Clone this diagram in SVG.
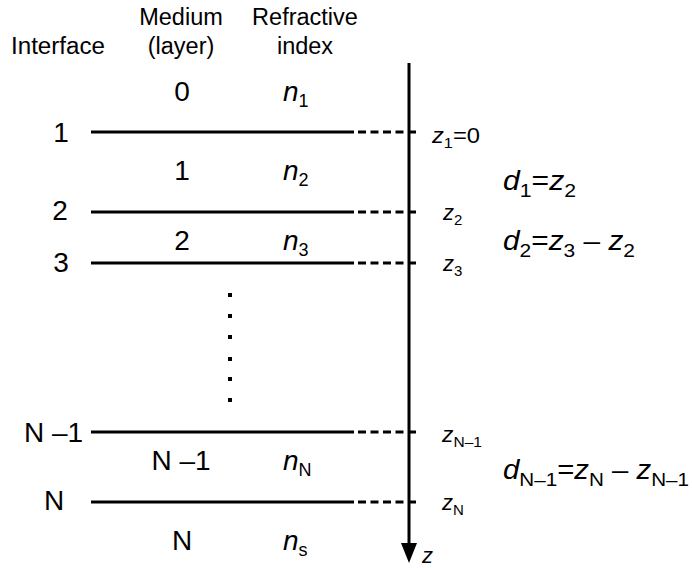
<svg xmlns="http://www.w3.org/2000/svg" width="692" height="568" viewBox="0 0 692 568">
<style>
text{font-family:"Liberation Sans",Arial,Helvetica,sans-serif;fill:#000}
.h{font-size:23.5px;text-anchor:middle}
.lab{font-size:28px}
.mid{text-anchor:middle}
.it{font-style:italic}
.zl{font-size:22px;font-style:italic}
.dl{font-size:27px;font-style:italic}
.sub{font-style:normal}
.solid{stroke:#000;stroke-width:3;fill:none}
.dash{stroke:#000;stroke-width:3;fill:none;stroke-dasharray:8 4.5}
</style>
<g id="headers">
<text x="11" y="54" font-size="23.5" textLength="94" lengthAdjust="spacingAndGlyphs">Interface</text>
<text x="181" y="25" class="h">Medium</text>
<text x="181" y="54" class="h">(layer)</text>
<text x="305" y="25" class="h">Refractive</text>
<text x="305" y="54" class="h">index</text>
</g>
<g id="connectors">
<line x1="409" y1="63" x2="409" y2="544" class="solid"/>
<path d="M401,543 L417,543 L409,563 Z" fill="#000"/>
<line x1="91" y1="132" x2="354" y2="132" class="solid"/>
<line x1="358" y1="132" x2="416" y2="132" class="dash"/>
<line x1="91" y1="212" x2="354" y2="212" class="solid"/>
<line x1="358" y1="212" x2="416" y2="212" class="dash"/>
<line x1="91" y1="263" x2="354" y2="263" class="solid"/>
<line x1="358" y1="263" x2="416" y2="263" class="dash"/>
<line x1="91" y1="432" x2="354" y2="432" class="solid"/>
<line x1="358" y1="432" x2="416" y2="432" class="dash"/>
<line x1="91" y1="502" x2="354" y2="502" class="solid"/>
<line x1="358" y1="502" x2="416" y2="502" class="dash"/>
</g>
<g id="dots" fill="#000">
<rect x="228" y="293" width="4" height="4"/>
<rect x="228" y="314" width="4" height="4"/>
<rect x="228" y="335" width="4" height="4"/>
<rect x="228" y="357" width="4" height="4"/>
<rect x="228" y="377" width="4" height="4"/>
<rect x="228" y="398" width="4" height="4"/>
</g>
<g id="interface-labels">
<text x="61" y="142" class="lab mid">1</text>
<text x="60" y="220" class="lab mid">2</text>
<text x="61" y="272" class="lab mid">3</text>
<text x="24" y="442" class="lab">N –1</text>
<text x="54" y="510" class="lab mid">N</text>
</g>
<g id="medium-labels">
<text x="182" y="101" class="lab mid">0</text>
<text x="182" y="180" class="lab mid">1</text>
<text x="182" y="250" class="lab mid">2</text>
<text x="181" y="470" class="lab mid">N –1</text>
<text x="182" y="550" class="lab mid">N</text>
</g>
<g id="index-labels">
<text x="283" y="101" class="lab it">n<tspan class="sub" font-size="18" dy="6">1</tspan></text>
<text x="283" y="180" class="lab it">n<tspan class="sub" font-size="18" dy="6">2</tspan></text>
<text x="283" y="250" class="lab it">n<tspan class="sub" font-size="18" dy="6">3</tspan></text>
<text x="283" y="470" class="lab it">n<tspan class="sub" font-size="18" dy="6">N</tspan></text>
<text x="283" y="550" class="lab it">n<tspan class="sub" font-size="18" dy="6">s</tspan></text>
</g>
<g id="z-labels">
<text x="432" y="143" class="zl" textLength="48" lengthAdjust="spacingAndGlyphs">z<tspan class="sub" font-size="15" dy="5">1</tspan><tspan class="sub" dy="-5">=0</tspan></text>
<text x="443" y="220" class="zl">z<tspan class="sub" font-size="15" dy="5">2</tspan></text>
<text x="443" y="271" class="zl">z<tspan class="sub" font-size="15" dy="5">3</tspan></text>
<text x="442" y="442" class="zl" textLength="40" lengthAdjust="spacingAndGlyphs">z<tspan class="sub" font-size="15" dy="5">N–1</tspan></text>
<text x="442" y="510" class="zl">z<tspan class="sub" font-size="15" dy="5">N</tspan></text>
<text x="422" y="563" class="zl" font-size="24">z</text>
</g>
<g id="d-labels">
<text x="503" y="190" class="dl" textLength="73" lengthAdjust="spacingAndGlyphs">d<tspan class="sub" font-size="19" dy="7">1</tspan><tspan class="sub" dy="-7">=</tspan>z<tspan class="sub" font-size="19" dy="7">2</tspan></text>
<text x="503" y="250" class="dl" textLength="132" lengthAdjust="spacingAndGlyphs">d<tspan class="sub" font-size="19" dy="7">2</tspan><tspan class="sub" dy="-7">=</tspan>z<tspan class="sub" font-size="19" dy="7">3</tspan><tspan class="sub" dy="-7"> – </tspan>z<tspan class="sub" font-size="19" dy="7">2</tspan></text>
<text x="503" y="479" class="dl" textLength="186" lengthAdjust="spacingAndGlyphs">d<tspan class="sub" font-size="19" dy="7">N–1</tspan><tspan class="sub" dy="-7">=</tspan>z<tspan class="sub" font-size="19" dy="7">N</tspan><tspan class="sub" dy="-7"> – </tspan>z<tspan class="sub" font-size="19" dy="7">N–1</tspan></text>
</g>
</svg>
